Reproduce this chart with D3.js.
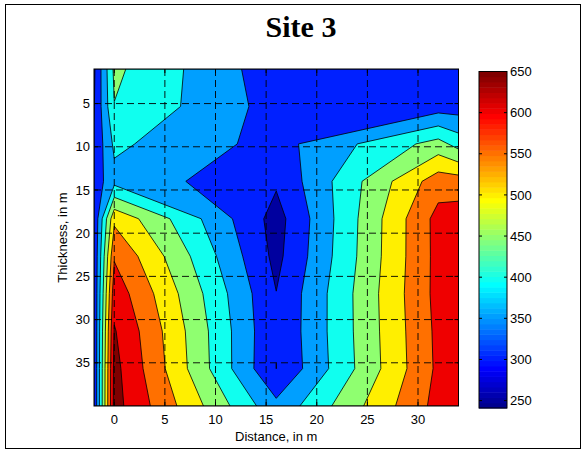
<!DOCTYPE html>
<html><head><meta charset="utf-8">
<script src="https://cdn.jsdelivr.net/npm/d3@7"></script>
<style>
body{margin:0;background:#fff}
text{font-family:"Liberation Sans",Arial,sans-serif;fill:#000}
</style>
</head><body>
<svg id="chart" width="586" height="454"></svg>
<script>
// ---------------- data ----------------
const distances = [-2, 0, 16, 32, 34];                 // grid columns, m
const thicknesses = [1, 5.333, 9.667, 14, 18.333, 22.667, 27, 31.333, 35.667, 40]; // grid rows, m
const row01 = [242, 410, 270, 280, 278];
const row02 = [247, 398.5, 280, 275, 276];
const row03 = [254, 360, 281, 419, 380];
const row04 = [270, 334, 257, 527, 524];
const row05 = [256, 489, 230, 567, 573];
const row06 = [254, 545, 236, 566, 575];
const row07 = [253, 580, 251, 566, 575];
const row08 = [252, 604, 253, 562, 575];
const row09 = [252, 615, 249.5, 560, 572];
const row10 = [252, 618, 313, 567, 575];
const values = [row01,row02,row03,row04,row05,row06,row07,row08,row09,row10];
const levels = [250, 300, 350, 400, 450, 500, 550, 600];
const colorLimits = [241, 650];
const xTicks = [0, 5, 10, 15, 20, 25, 30];
const yTicks = [5, 10, 15, 20, 25, 30, 35];
const cbTicks = [250, 300, 350, 400, 450, 500, 550, 600, 650];
const title = "Site 3", xLabel = "Distance, in m", yLabel = "Thickness, in m";

// ---------------- jet colormap (64) ----------------
function jetMap(m) {
  const n = Math.ceil(m / 4), u = [];
  for (let i = 1; i <= n; i++) u.push(i / n);
  for (let i = 1; i < n; i++) u.push(1);
  for (let i = n; i >= 1; i--) u.push(i / n);
  const off = Math.ceil(n / 2) - (m % 4 === 1 ? 1 : 0);
  const J = Array.from({length: m}, () => [0, 0, 0]);
  const bIdx = [];
  u.forEach((val, i) => {
    const g = off + i + 1, r = g + n, b = g - n;
    if (g <= m) J[g - 1][1] = val;
    if (r <= m) J[r - 1][0] = val;
    if (b >= 1) bIdx.push(b);
  });
  bIdx.forEach((b, k) => { J[b - 1][2] = u[u.length - bIdx.length + k]; });
  return J.map(c => d3.rgb(c[0] * 255, c[1] * 255, c[2] * 255).formatHex());
}
const jet = jetMap(64);
function colorOf(v) {
  let k = Math.floor((v - colorLimits[0]) / (colorLimits[1] - colorLimits[0]) * 64);
  k = Math.max(0, Math.min(63, k));
  return jet[k];
}

// ---------------- layout ----------------
const svg = d3.select("#chart");
const W = 586, H = 454;
const L = 94, R = 458.5, T = 69, B = 406;
const x = d3.scaleLinear().domain([-2, 34]).range([L, R]);
const y = d3.scaleLinear().domain([1, 40]).range([T, B]);

svg.append("rect").attr("width", W).attr("height", H).attr("fill", "#fff");
svg.append("rect").attr("x", 5.5).attr("y", 4.5).attr("width", 575).attr("height", 444)
  .attr("fill", "none").attr("stroke", "#000").attr("stroke-width", 1);

svg.append("defs").append("clipPath").attr("id", "clip")
  .append("rect").attr("x", L).attr("y", T).attr("width", R - L).attr("height", B - T);

// grid index -> data coordinate (piecewise linear, half-cell border collapsed onto the edge)
const nx = distances.length, ny = thicknesses.length;
const gx = d3.scaleLinear()
  .domain([0, ...distances.map((d, i) => i + 0.5), nx])
  .range([distances[0], ...distances, distances[nx - 1]]);
const gy = d3.scaleLinear()
  .domain([0, ...thicknesses.map((d, i) => i + 0.5), ny])
  .range([thicknesses[0], ...thicknesses, thicknesses[ny - 1]]);
const proj = d3.geoTransform({ point(px, py) { this.stream.point(x(gx(px)), y(gy(py))); } });
const path = d3.geoPath(proj);

const contours = d3.contours().size([nx, ny]).thresholds(levels)(values.flat());

const plot = svg.append("g").attr("clip-path", "url(#clip)");
plot.append("rect").attr("x", L).attr("y", T).attr("width", R - L).attr("height", B - T)
  .attr("fill", colorOf(levels[0]));
const upper = levels.slice(1).concat([colorLimits[1]]);
plot.selectAll("path.band").data(contours).join("path")
  .attr("class", "band")
  .attr("d", path)
  .attr("fill", (d, i) => colorOf(upper[i]))
  .attr("fill-rule", "evenodd")
  .attr("stroke", "#000").attr("stroke-width", 0.8).attr("stroke-linejoin", "round");

// dashed grid
const grid = svg.append("g").attr("stroke", "#000").attr("stroke-width", 0.9)
  .attr("stroke-dasharray", "7,4").attr("fill", "none");
xTicks.forEach(t => grid.append("line").attr("x1", x(t)).attr("x2", x(t)).attr("y1", T).attr("y2", B));
yTicks.forEach(t => grid.append("line").attr("x1", L).attr("x2", R).attr("y1", y(t)).attr("y2", y(t)));

// axes box and ticks
const ax = svg.append("g").attr("stroke", "#000").attr("stroke-width", 1).attr("fill", "none");
ax.append("rect").attr("x", L).attr("y", T).attr("width", R - L).attr("height", B - T);
const tl = 4;
xTicks.forEach(t => {
  ax.append("line").attr("x1", x(t)).attr("x2", x(t)).attr("y1", B).attr("y2", B - tl);
  ax.append("line").attr("x1", x(t)).attr("x2", x(t)).attr("y1", T).attr("y2", T + tl);
});
yTicks.forEach(t => {
  ax.append("line").attr("x1", L).attr("x2", L + tl).attr("y1", y(t)).attr("y2", y(t));
  ax.append("line").attr("x1", R).attr("x2", R - tl).attr("y1", y(t)).attr("y2", y(t));
});

const fs = 13;
svg.append("g").selectAll("text").data(xTicks).join("text")
  .attr("x", d => x(d)).attr("y", B + 18).attr("text-anchor", "middle")
  .attr("font-size", fs).text(d => d);
svg.append("g").selectAll("text").data(yTicks).join("text")
  .attr("x", L - 4).attr("y", d => y(d)).attr("dy", "0.36em").attr("text-anchor", "end")
  .attr("font-size", fs).text(d => d);
svg.append("text").attr("x", (L + R) / 2).attr("y", 441).attr("text-anchor", "middle")
  .attr("font-size", fs).text(xLabel);
svg.append("text").attr("transform", `translate(67,${(T + B) / 2}) rotate(-90)`)
  .attr("text-anchor", "middle").attr("font-size", fs).text(yLabel);
svg.append("text").attr("x", 301).attr("y", 37).attr("text-anchor", "middle")
  .style("font-family", "'Liberation Serif','Times New Roman',serif")
  .attr("font-size", 30).attr("font-weight", "bold").text(title);

// colorbar
const cbL = 479, cbR = 507, cbT = 71.5, cbB = 408;
const cy = d3.scaleLinear().domain(colorLimits).range([cbB, cbT]);
const step = (colorLimits[1] - colorLimits[0]) / 64;
const cb = svg.append("g");
cb.selectAll("rect").data(d3.range(64)).join("rect")
  .attr("x", cbL).attr("width", cbR - cbL)
  .attr("y", k => cy(colorLimits[0] + (k + 1) * step))
  .attr("height", k => cy(colorLimits[0] + k * step) - cy(colorLimits[0] + (k + 1) * step) + 0.5)
  .attr("fill", k => jet[k]);
cb.append("rect").attr("x", cbL).attr("y", cbT).attr("width", cbR - cbL).attr("height", cbB - cbT)
  .attr("fill", "none").attr("stroke", "#000").attr("stroke-width", 1);
cbTicks.forEach(t => {
  cb.append("line").attr("x1", cbL).attr("x2", cbL + 3).attr("y1", cy(t)).attr("y2", cy(t)).attr("stroke", "#000");
  cb.append("line").attr("x1", cbR).attr("x2", cbR - 3).attr("y1", cy(t)).attr("y2", cy(t)).attr("stroke", "#000");
});
cb.selectAll("text").data(cbTicks).join("text")
  .attr("x", cbR + 3).attr("y", d => cy(d)).attr("dy", "0.36em")
  .attr("font-size", fs).text(d => d);
</script>
</body></html>
